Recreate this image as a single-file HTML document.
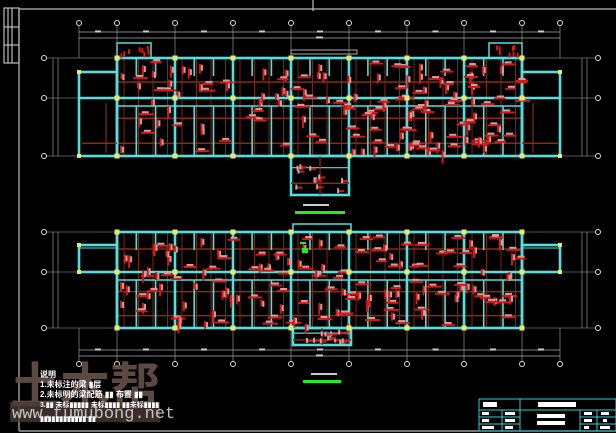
<!DOCTYPE html>
<html><head><meta charset="utf-8"><style>
html,body{margin:0;padding:0;background:#000;width:616px;height:433px;overflow:hidden}
svg{display:block}
</style></head><body>
<svg id="s" width="616" height="433" viewBox="0 0 616 433" xmlns="http://www.w3.org/2000/svg">
<rect width="616" height="433" fill="#000"/>
<g stroke="#bbb" stroke-width="1.2" fill="none">
<line x1="19" y1="9" x2="616" y2="9"/>
<line x1="19" y1="9" x2="19" y2="431"/>
<line x1="19" y1="431" x2="616" y2="431"/>
<line x1="313" y1="0" x2="313" y2="11"/>
<rect x="4" y="8" width="15" height="55"/>
<line x1="8" y1="8" x2="8" y2="63"/><line x1="12" y1="8" x2="12" y2="63"/><line x1="4" y1="27" x2="19" y2="27"/><line x1="4" y1="45" x2="19" y2="45"/>
</g>
<g id="p1"></g><g id="p2"></g>
<text x="10" y="404" font-family="Noto Sans CJK SC, sans-serif" font-size="50" font-weight="bold" fill="#66524a" opacity="0.9" letter-spacing="0">土木帮</text>
<rect x="10" y="402" width="150" height="20" fill="#4a3a35" opacity="0.8"/>
<text x="12" y="418" font-family="Liberation Mono, monospace" font-size="17" fill="#ddd" opacity="0.85">www.tumubong.net</text>
<g font-family="Liberation Sans, Noto Sans CJK SC, sans-serif" font-size="8" fill="#fff" font-weight="bold">
<text x="40" y="377">说明</text>
<text x="40" y="387">1.未标注的梁 ▮层</text>
<text x="40" y="397">2.未标明的梁配筋 ▮▮ 布置 ▮▮</text>
<text x="40" y="407" font-size="7">3.▮▮ 未标▮▮▮▮▮ 未标▮▮▮▮ ▮▮未标▮▮▮▮</text>
<text x="40" y="421" font-size="7">▮▮▮▮▮▮▮▮▮▮▮▮ ▮▮</text>
</g>
<g stroke="#3cc" stroke-width="1" fill="none">
<rect x="479" y="399" width="137" height="32"/>
<line x1="479" y1="410" x2="616" y2="410"/>
<line x1="520" y1="399" x2="520" y2="431"/>
<line x1="502" y1="410" x2="502" y2="431"/>
<line x1="580" y1="410" x2="580" y2="431"/>
<line x1="597" y1="410" x2="597" y2="431"/>
<line x1="479" y1="417" x2="520" y2="417"/><line x1="479" y1="424" x2="520" y2="424"/>
<line x1="580" y1="417" x2="616" y2="417"/><line x1="580" y1="424" x2="616" y2="424"/>
</g>
<g fill="#fff">
<rect x="483" y="402" width="14" height="5"/><rect x="538" y="402" width="38" height="5"/>
<rect x="482" y="412" width="7" height="3"/><rect x="505" y="412" width="10" height="3"/>
<rect x="482" y="419" width="7" height="3"/><rect x="505" y="419" width="10" height="3"/>
<rect x="482" y="426" width="12" height="3"/><rect x="505" y="426" width="8" height="3"/>
<rect x="537" y="414" width="28" height="4"/><rect x="537" y="421" width="28" height="4"/>
<rect x="584" y="412" width="8" height="3"/><rect x="601" y="412" width="8" height="3"/>
<rect x="584" y="419" width="8" height="3"/><rect x="603" y="419" width="4" height="3"/>
<rect x="584" y="426" width="5" height="3"/><rect x="600" y="426" width="10" height="3"/>
</g>
</svg>
<script>
var NS="http://www.w3.org/2000/svg";
function el(g,t,a){var e=document.createElementNS(NS,t);for(var k in a)e.setAttribute(k,a[k]);g.appendChild(e);return e;}
var seed=7;function rnd(){seed=(seed*16807)%2147483647;return seed/2147483647;}
var cols=[79,117,175,233,291,349,407,464,522,560];
function plan(g,rows,wingTop,flip,bx1,by,bx2,lbl){
 var T=rows[0],M=rows[1],B=rows[2];
 var gy=flip?B+36:T-35;
 cols.forEach(function(x,i){
  el(g,'line',{x1:x,y1:flip?B:gy,x2:x,y2:flip?gy:T,stroke:'#aaa','stroke-width':0.6});
  el(g,'circle',{cx:x,cy:gy,r:2.5,fill:'#000',stroke:'#ddd','stroke-width':1});
 });
 var d1=flip?B+22:T-26,d2=flip?B+28:T-20;
 el(g,'line',{x1:79,y1:d1,x2:560,y2:d1,stroke:'#aaa','stroke-width':0.7});
 el(g,'line',{x1:79,y1:d2,x2:560,y2:d2,stroke:'#aaa','stroke-width':0.7});
 for(var i=0;i<9;i++)el(g,'rect',{x:(cols[i]+cols[i+1])/2-3,y:d1-1.5,width:6,height:2,fill:'#ccc'});
 el(g,'rect',{x:316,y:d2-1.5,width:7,height:2,fill:'#ccc'});
 rows.forEach(function(y){
  el(g,'line',{x1:45,y1:y,x2:598,y2:y,stroke:'#aaa','stroke-width':0.6});
  el(g,'circle',{cx:44,cy:y,r:2.5,fill:'#000',stroke:'#ddd'});
  el(g,'circle',{cx:598,cy:y,r:2.5,fill:'#000',stroke:'#ddd'});
 });
 [53,58,582,587].forEach(function(x){el(g,'line',{x1:x,y1:T,x2:x,y2:B,stroke:'#aaa','stroke-width':0.6});});
 var b1=(T+M)/2+(flip?-3:4),b2=M+(B-M)*0.35,b3=M+(B-M)*0.78;
 [b1,b2,b3].forEach(function(y){el(g,'line',{x1:117,y1:y,x2:522,y2:y,stroke:'#8a2a10','stroke-width':1.5});});
 for(var x=117;x<522;x+=14.5){
  el(g,'line',{x1:x+7,y1:T,x2:x+7,y2:B,stroke:'#7a2a10','stroke-width':1});
 }
 var C={stroke:'#55dede','stroke-width':2.6,fill:'none'};
 el(g,'rect',Object.assign({x:117,y:T,width:405,height:B-T},C));
 el(g,'line',Object.assign({x1:117,y1:M,x2:522,y2:M},C));
 el(g,'line',Object.assign({x1:117,y1:M+8,x2:522,y2:M+8},{stroke:'#55dede','stroke-width':1.5}));
 cols.slice(1,9).forEach(function(x){el(g,'line',Object.assign({x1:x,y1:T,x2:x,y2:B},C));});
 for(var x=117;x<522;x+=19.3){
  el(g,'line',{x1:x,y1:T,x2:x,y2:T+(M-T)*0.45,stroke:'#55dede','stroke-width':1.6});
  el(g,'line',{x1:x,y1:M+8,x2:x,y2:B,stroke:'#55dede','stroke-width':1.6});
 }
 var wy1=wingTop,wy2=flip?M:B;
 el(g,'rect',Object.assign({x:79,y:wy1,width:38,height:wy2-wy1},C));
 el(g,'rect',Object.assign({x:522,y:wy1,width:38,height:wy2-wy1},C));
 if(!flip){el(g,'line',Object.assign({x1:79,y1:M,x2:117,y2:M},C));el(g,'line',Object.assign({x1:522,y1:M,x2:560,y2:M},C));
  el(g,'line',{x1:82,y1:b3,x2:117,y2:b3,stroke:'#8a2a10','stroke-width':1.5});el(g,'line',{x1:522,y1:b3,x2:558,y2:b3,stroke:'#8a2a10','stroke-width':1.5});
  el(g,'line',{x1:106,y1:M+5,x2:106,y2:B-3,stroke:'#8a2a10','stroke-width':1.2});el(g,'line',{x1:533,y1:M+5,x2:533,y2:B-3,stroke:'#8a2a10','stroke-width':1.2});}
 else{el(g,'line',{x1:80,y1:wy1+3,x2:117,y2:wy1+3,stroke:'#55dede','stroke-width':1});el(g,'line',{x1:522,y1:wy1+3,x2:559,y2:wy1+3,stroke:'#55dede','stroke-width':1});}
 el(g,'rect',Object.assign({x:bx1,y:by[0],width:bx2-bx1,height:by[1]-by[0]},C));
 el(g,'line',{x1:bx1,y1:by[0]+(by[1]-by[0])*0.3,x2:bx2,y2:by[0]+(by[1]-by[0])*0.3,stroke:'#55dede','stroke-width':1.2});
 el(g,'line',{x1:bx1,y1:by[0]+(by[1]-by[0])*0.7,x2:bx2,y2:by[0]+(by[1]-by[0])*0.7,stroke:'#8a2a10','stroke-width':1.5});
 el(g,'line',{x1:(bx1+bx2)/2,y1:by[0],x2:(bx1+bx2)/2,y2:by[1],stroke:'#8a2a10','stroke-width':1.2});
 for(var k=0;k<150;k++){
  var x=120+rnd()*398,y=T+3+rnd()*(B-T-6);
  if(rnd()<0.5){el(g,'rect',{x:x,y:y,width:2,height:6+rnd()*7,fill:'#d81818'});el(g,'rect',{x:x+2,y:y+1,width:2,height:6,fill:'#d89a9a'});}
  else{el(g,'rect',{x:x,y:y,width:10+rnd()*6,height:2,fill:'#d81818'});el(g,'rect',{x:x+3,y:y-2,width:7,height:2,fill:'#d0a0a0'});}
 }
 for(var k=0;k<12;k++){var x=bx1+3+rnd()*(bx2-bx1-10),y=by[0]+2+rnd()*(by[1]-by[0]-5);el(g,'rect',{x:x,y:y,width:7,height:2,fill:'#d81818'});el(g,'rect',{x:x,y:y-2,width:2,height:5,fill:'#d0a0a0'});}
 cols.slice(1,9).forEach(function(x){rows.forEach(function(y){el(g,'rect',{x:x-2.5,y:y-2.5,width:5,height:5,fill:'#e8e870'});});});
 [79,560].forEach(function(x){[wy1,wy2].forEach(function(y){el(g,'rect',{x:x-2,y:y-2,width:4,height:4,fill:'#e8e870'});});});
 el(g,'rect',{x:lbl[0]+8,y:lbl[1]-7,width:26,height:2,fill:'#ccc'});
 el(g,'rect',{x:lbl[0],y:lbl[1],width:lbl[2],height:3,fill:'#2e2'});
}
var g1=document.getElementById('p1'),g2=document.getElementById('p2');
var C0={stroke:'#55dede','stroke-width':1.5,fill:'none'};
el(g1,'rect',Object.assign({x:117,y:43,width:34,height:15},C0));
el(g1,'rect',Object.assign({x:489,y:43,width:33,height:15},C0));
el(g1,'rect',{x:291,y:50,width:66,height:4,fill:'none',stroke:'#aaa','stroke-width':1});
plan(g1,[58,98,156],72,false,291,[156,195],349,[295,211,50]);
for(var k=0;k<8;k++){el(g1,'rect',{x:120+rnd()*28,y:45+rnd()*10,width:2,height:5,fill:'#d81818'});el(g1,'rect',{x:491+rnd()*28,y:45+rnd()*10,width:2,height:5,fill:'#d81818'});}
el(g2,'rect',{x:293,y:224,width:58,height:8,fill:'none',stroke:'#55dede','stroke-width':1.5});
plan(g2,[232,272,328],245,true,293,[328,345],351,[303,380,38]);
el(g2,'rect',{x:302,y:248,width:6,height:5,fill:'#2e2'});
el(g2,'rect',{x:300,y:242,width:6,height:2,fill:'#2e2'});
</script>
</body></html>
